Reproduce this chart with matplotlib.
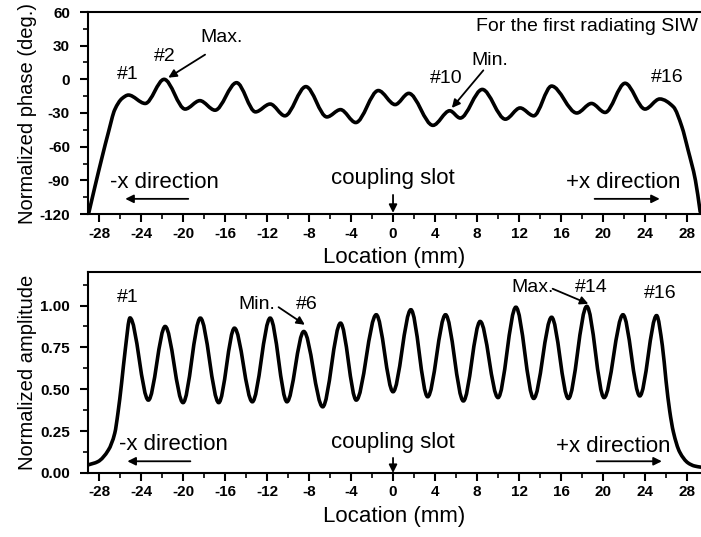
import matplotlib
matplotlib.use('Agg')
import matplotlib.pyplot as plt
from matplotlib.path import Path
from matplotlib.patches import PathPatch
from matplotlib.ticker import MultipleLocator

plt.rcParams['font.family'] = ['Liberation Sans', 'DejaVu Sans']
plt.rcParams['axes.unicode_minus'] = False

# phase curve (extrema + a few points on the steep ends)
phase_x = [-29.0, -28.4, -27.7, -27.1, -26.5, -25.8, -25.2, -23.6, -21.8, -19.8,
           -18.4, -16.95, -14.9, -13.1, -11.7, -10.3, -8.3, -6.3, -5.0, -3.55,
           -1.4, 0.2, 1.5, 3.8, 5.4, 6.4, 8.5, 10.7, 12.1, 13.4,
           15.1, 17.5, 18.9, 20.2, 22.1, 24.0, 25.4, 26.7, 27.5, 28.1,
           28.8, 29.25]
phase_y = [-120, -96, -69, -47, -27, -17, -14, -21.5, 0, -26.5,
           -19, -27.5, -3, -29, -22, -32.5, -6.5, -33.5, -27, -38.5,
           -10, -22.5, -12.5, -41, -28, -34.5, -9, -35.5, -25.5, -32.5,
           -6, -30, -21.5, -29.5, -3.5, -26.5, -17.5, -24.5, -42, -63,
           -90, -118]

# amplitude curve
amp_x = [-29.05, -28.1, -27.1, -26.5, -26.2, -25.85, -25.5, -25.05, -23.3, -21.7,
         -20.0, -18.35, -16.6, -15.1, -13.4, -11.7, -10.1, -8.5, -6.7, -5.0,
         -3.5, -1.6, 0.0, 1.7, 3.3, 5.0, 6.7, 8.3, 10.0, 11.7,
         13.4, 15.1, 16.7, 18.45, 20.1, 21.9, 23.5, 25.1, 25.65, 26.0,
         26.35, 26.7, 27.3, 28.1, 28.7, 29.3]
amp_y = [0.048, 0.068, 0.138, 0.238, 0.357, 0.537, 0.737, 0.926, 0.435, 0.875,
         0.42, 0.925, 0.42, 0.865, 0.425, 0.925, 0.425, 0.845, 0.395, 0.895,
         0.435, 0.945, 0.485, 0.975, 0.455, 0.945, 0.43, 0.905, 0.45, 0.99,
         0.445, 0.93, 0.445, 0.995, 0.45, 0.945, 0.46, 0.94, 0.76, 0.55,
         0.37, 0.245, 0.125, 0.06, 0.042, 0.035]

x_ticks = list(range(-28, 29, 4))
phase_ticks = [60, 30, 0, -30, -60, -90, -120]
amp_ticks = [0.0, 0.25, 0.5, 0.75, 1.0]


def smooth_path(xs, ys):
    # bezier path through the points, flat tangent at the extrema
    n = len(xs)
    h = [xs[i+1]-xs[i] for i in range(n-1)]
    d = [(ys[i+1]-ys[i])/h[i] for i in range(n-1)]
    m = [d[0]] + [0.0]*(n-2) + [d[-1]]
    for i in range(1, n-1):
        if d[i-1]*d[i] > 0:
            w1 = 2*h[i] + h[i-1]
            w2 = h[i] + 2*h[i-1]
            m[i] = (w1+w2)/(w1/d[i-1] + w2/d[i])
    verts = [(xs[0], ys[0])]
    codes = [Path.MOVETO]
    for i in range(n-1):
        verts += [(xs[i]+h[i]/3, ys[i]+m[i]*h[i]/3),
                  (xs[i+1]-h[i]/3, ys[i+1]-m[i+1]*h[i]/3),
                  (xs[i+1], ys[i+1])]
        codes += [Path.CURVE4]*3
    return Path(verts, codes)


def style_axes(ax):
    ax.spines['right'].set_visible(False)
    for s in ['left', 'bottom', 'top']:
        ax.spines[s].set_linewidth(1.5)
    ax.set_xlim(-29.05, 29.33)
    ax.set_xticks(x_ticks)
    ax.xaxis.set_minor_locator(MultipleLocator(2))
    ax.tick_params(which='major', direction='out', length=6, width=1.5,
                   labelsize=11, top=False, right=False)
    ax.tick_params(which='minor', direction='out', length=3.5, width=1.2,
                   top=False, right=False)
    ax.tick_params(axis='x', pad=3)
    ax.tick_params(axis='y', pad=7)
    ax.set_xlabel('Location (mm)', fontsize=16, labelpad=5)


def arrow(ax, x0, y0, x1, y1):
    ax.annotate('', xy=(x1, y1), xytext=(x0, y0),
                arrowprops=dict(arrowstyle='-|>', color='black', lw=1.3,
                                mutation_scale=12, shrinkA=0, shrinkB=0))


fig = plt.figure(figsize=(7.01, 5.37), dpi=100)
ax1 = fig.add_axes([88/701, 1-214/537, 613/701, 202/537])
ax2 = fig.add_axes([88/701, 1-473/537, 613/701, 201/537])

# ---- top: phase
ax1.add_patch(PathPatch(smooth_path(phase_x, phase_y), fill=False, lw=2.6,
                        ec='black', capstyle='round', joinstyle='round'))
style_axes(ax1)
ax1.set_ylim(-120, 60)
ax1.set_yticks(phase_ticks)
ax1.yaxis.set_minor_locator(MultipleLocator(15))
ax1.set_ylabel('Normalized phase (deg.)', fontsize=14.5, labelpad=2)

ax1.text(0.995, 0.93, 'For the first radiating SIW', transform=ax1.transAxes,
         ha='right', va='center', fontsize=14)
ax1.text(-25.3, 4, '#1', ha='center', va='center', fontsize=14)
ax1.text(-21.7, 20, '#2', ha='center', va='center', fontsize=14)
ax1.text(-16.3, 37, 'Max.', ha='center', va='center', fontsize=14)
arrow(ax1, -17.9, 22, -21.4, 1.5)
ax1.text(5.1, 1, '#10', ha='center', va='center', fontsize=14)
ax1.text(9.2, 17, 'Min.', ha='center', va='center', fontsize=14)
arrow(ax1, 8.6, 8, 5.6, -25.5)
ax1.text(26.1, 2, '#16', ha='center', va='center', fontsize=14)

ax1.text(-21.8, -91.5, '-x direction', ha='center', va='center', fontsize=16)
arrow(ax1, -19.5, -106.5, -25.5, -106.5)
ax1.text(0, -88, 'coupling slot', ha='center', va='center', fontsize=16)
arrow(ax1, 0, -103, 0, -119)
ax1.text(21.9, -91.5, '+x direction', ha='center', va='center', fontsize=16)
arrow(ax1, 19.2, -106.5, 25.4, -106.5)

# ---- bottom: amplitude
ax2.add_patch(PathPatch(smooth_path(amp_x, amp_y), fill=False, lw=2.6,
                        ec='black', capstyle='round', joinstyle='round'))
style_axes(ax2)
ax2.set_ylim(0, 1.2)
ax2.set_yticks(amp_ticks)
ax2.set_yticklabels(['%.2f' % v for v in amp_ticks])
ax2.yaxis.set_minor_locator(MultipleLocator(0.125))
ax2.set_ylabel('Normalized amplitude', fontsize=14.5, labelpad=2)

ax2.text(-25.3, 1.05, '#1', ha='center', va='center', fontsize=14)
ax2.text(-13.0, 1.005, 'Min.', ha='center', va='center', fontsize=14)
ax2.text(-8.2, 1.005, '#6', ha='center', va='center', fontsize=14)
arrow(ax2, -10.9, 0.99, -8.4, 0.885)
ax2.text(13.3, 1.11, 'Max.', ha='center', va='center', fontsize=14)
ax2.text(18.9, 1.11, '#14', ha='center', va='center', fontsize=14)
arrow(ax2, 15.2, 1.10, 18.6, 1.01)
ax2.text(25.4, 1.07, '#16', ha='center', va='center', fontsize=14)

ax2.text(-20.9, 0.17, '-x direction', ha='center', va='center', fontsize=16)
arrow(ax2, -19.3, 0.07, -25.3, 0.07)
ax2.text(0, 0.18, 'coupling slot', ha='center', va='center', fontsize=16)
arrow(ax2, 0, 0.09, 0, 0.0)
ax2.text(21.0, 0.16, '+x direction', ha='center', va='center', fontsize=16)
arrow(ax2, 19.4, 0.07, 25.6, 0.07)

for ax in (ax1, ax2):
    for lbl in ax.get_xticklabels() + ax.get_yticklabels():
        lbl.set_fontweight('bold')

fig.savefig('out.png', dpi=100)
